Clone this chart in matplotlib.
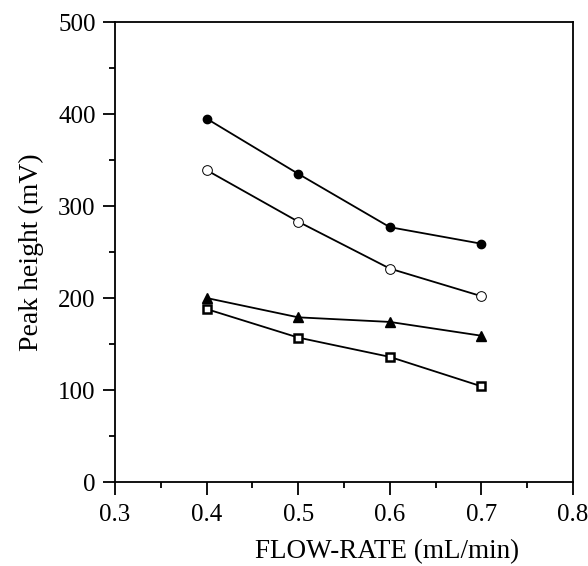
#!/usr/bin/env python3

import matplotlib
matplotlib.use('Agg')
from matplotlib import pyplot as plt
from matplotlib.ticker import MultipleLocator

flow_rate = [0.4, 0.5, 0.6, 0.7]
filled_circle = [395, 335, 277, 259]
open_circle = [339, 283, 232, 202]
triangle = [200, 179, 174, 159]
square = [188, 157, 136, 104]

plt.rcParams['font.family'] = ['Liberation Serif', 'DejaVu Serif']

fig = plt.figure(figsize=(5.88, 5.66), dpi=100)
ax = fig.add_axes([0.1956, 0.1484, 0.7789, 0.8127])

ax.plot(flow_rate, filled_circle, 'k-', marker='o', markersize=6, mfc='black', mec='black', lw=1.3)
ax.plot(flow_rate, open_circle, 'k-', marker='o', markersize=7, mfc='white', mec='black', mew=0.7, lw=1.3)
ax.plot(flow_rate, triangle, 'k-', marker='^', markersize=6.5, mfc='black', mec='black', lw=1.3)
ax.plot(flow_rate, square, 'k-', marker='s', markersize=6, mfc='white', mec='black', mew=1.8, lw=1.3)

ax.set_xlim(0.3, 0.8)
ax.set_ylim(0, 500)
ax.xaxis.set_major_locator(MultipleLocator(0.1))
ax.xaxis.set_minor_locator(MultipleLocator(0.05))
ax.yaxis.set_major_locator(MultipleLocator(100))
ax.yaxis.set_minor_locator(MultipleLocator(50))
ax.tick_params(which='major', direction='out', length=9, width=1.3, labelsize=18, pad=5)
ax.tick_params(which='minor', direction='out', length=4, width=1.3)
ax.tick_params(axis='x', which='major', pad=7)
ax.xaxis.set_major_formatter(plt.FuncFormatter(lambda v, p: '{:.1f}'.format(v)))

for s in ax.spines.values():
    s.set_linewidth(1.3)

ax.set_xlabel('FLOW-RATE (mL/min)', fontsize=19.5, labelpad=8)
ax.xaxis.set_label_coords(0.594, -0.125)
ax.set_ylabel('Peak height (mV)', fontsize=20, labelpad=10)

fig.savefig('out.png', dpi=100)
